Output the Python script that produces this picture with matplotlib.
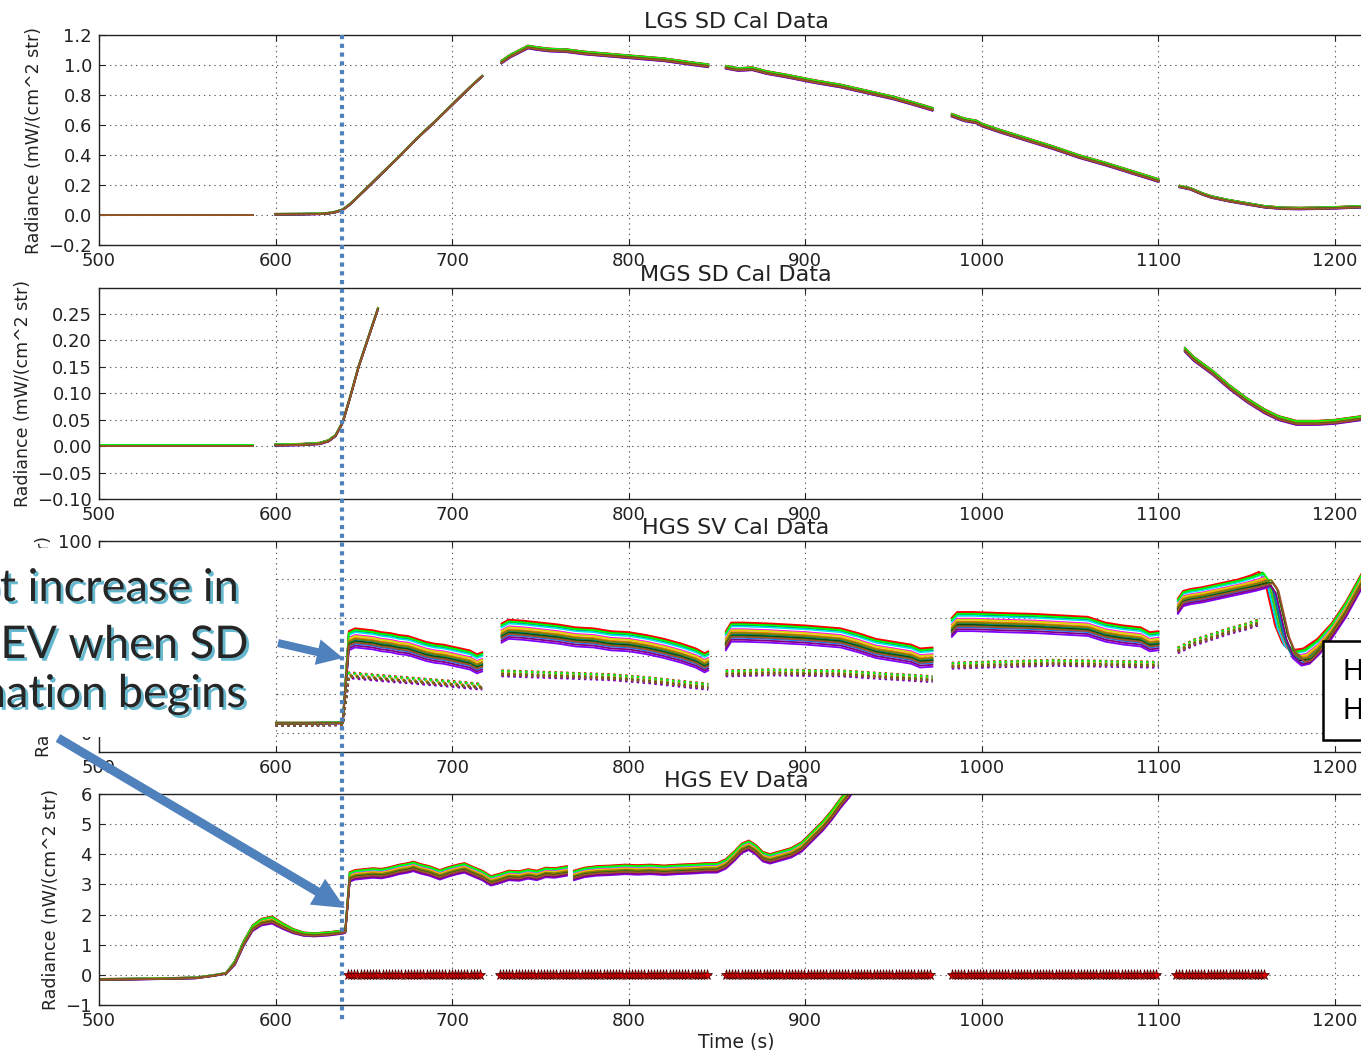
import numpy as np
import matplotlib
matplotlib.use("Agg")
import matplotlib.pyplot as plt
from matplotlib.patches import FancyArrow, Rectangle
import matplotlib.patheffects as pe

# ---------------- data ----------------
# detector colours (drawn in this order, last on top) and their relative level in the band
det_colors = ['#0000ff', '#00a000', '#ff0000', '#00e5e5', '#ff00ff', '#d8d800', '#000000',
              '#8000ff', '#00ff00', '#ff8000', '#0080ff', '#008080', '#800080', '#808000',
              '#006400', '#a0522d']
det_rank = [0.7, 0.9, 1.0, 0.6, 0.3, 0.2, -0.3, -1.0, 0.8, 0.0, -0.6, -0.2, -0.8, -0.1, -0.4, -0.5]
# delay (s) of each detector's radiance drop at the end of the last SV sector
sv_drop_lag = [1, 2, 0, 1.5, 3, 3.5, 5, 6, 2.5, 4, 5.5, 4.5, 6.5, 7, 7.5, 8]

# LGS solar diffuser radiance, mW/(cm^2 str)
lgs_t = [[500, 587],
         [600, 615, 625, 630, 634, 638, 642, 650, 660, 670, 680, 690, 700, 710, 717],
         [728, 733, 738, 743, 748, 755, 765, 775, 790, 805, 820, 835, 845],
         [855, 862, 870, 878, 890, 905, 920, 935, 950, 962, 972],
         [983, 990, 997, 1000, 1010, 1025, 1040, 1055, 1070, 1085, 1100],
         [1112, 1118, 1125, 1130, 1140, 1150, 1160, 1170, 1180, 1190, 1200, 1215, 1225]]
lgs_v = [[0.002, 0.002],
         [0.005, 0.006, 0.008, 0.012, 0.02, 0.035, 0.07, 0.16, 0.275, 0.39, 0.51, 0.62, 0.735, 0.85, 0.925],
         [1.02, 1.06, 1.09, 1.12, 1.11, 1.10, 1.095, 1.08, 1.065, 1.05, 1.035, 1.01, 0.995],
         [0.985, 0.97, 0.975, 0.95, 0.925, 0.89, 0.86, 0.82, 0.78, 0.74, 0.705],
         [0.665, 0.635, 0.62, 0.60, 0.56, 0.505, 0.45, 0.39, 0.34, 0.285, 0.23],
         [0.19, 0.175, 0.14, 0.12, 0.095, 0.075, 0.055, 0.045, 0.043, 0.045, 0.048, 0.055, 0.058]]
lgs_spread = [0.001, 0.003, 0.01, 0.01, 0.01, 0.006]

# MGS solar diffuser radiance, mW/(cm^2 str)
mgs_t = [[500, 587],
         [600, 615, 625, 630, 634, 638, 642, 647, 652, 658],
         [1115, 1120, 1131, 1140, 1150, 1160, 1168, 1178, 1190, 1200, 1215, 1225]]
mgs_v = [[0.001, 0.001],
         [0.002, 0.003, 0.005, 0.01, 0.02, 0.045, 0.09, 0.15, 0.20, 0.26],
         [0.182, 0.165, 0.138, 0.112, 0.087, 0.066, 0.053, 0.044, 0.044, 0.046, 0.053, 0.056]]
mgs_spread = [0.0005, 0.0015, 0.004]

# HGS space view radiance (solid) and its companion trace (dotted)
sv_t = [[500, 560, 620, 638, 641.5, 645, 650, 655, 660, 665, 670, 675, 680, 685, 690, 695, 700, 705, 710, 714, 717],
        [728, 732, 740, 750, 760, 770, 780, 790, 800, 810, 820, 830, 838, 843, 845],
        [855, 858, 865, 880, 900, 920, 930, 940, 950, 960, 965, 972],
        [983, 986, 995, 1010, 1030, 1050, 1060, 1070, 1080, 1090, 1095, 1100],
        [1111, 1114, 1118, 1125, 1135, 1145, 1152, 1157, 1160, 1163, 1166, 1170, 1175, 1182, 1190, 1198, 1206, 1215, 1225]]
sv_v = [[5, 5, 5, 5.2, 48, 49.5, 49, 48.5, 47.5, 47, 46, 45.5, 44, 42.5, 41.5, 41, 40, 39, 38, 36, 37],
        [52, 54, 53.5, 52.5, 51.5, 50, 49.5, 48, 47.5, 46, 44, 41.5, 39, 36.5, 37.5],
        [48, 52.5, 52.5, 52, 51, 49.5, 47, 44, 42.5, 41, 39, 39.5],
        [55, 58, 58, 57.5, 57, 56, 55.5, 52.5, 51, 50, 47.5, 48],
        [66, 70, 71, 72, 74, 76, 78, 80, 76, 64, 52, 43, 39, 40, 45, 53, 64, 79, 95]]
# band width along the first sector: thin before the diffuser is lit
sv_band_weight0 = [0.06, 0.06, 0.06, 0.06] + [1.0] * 17
sv_lag_weight = [0, 0, 0, 0, 0, 0, 0.5, 1, 1, 1, 1, 1, 1, 0.6, 0.2, 0, 0, 0, 0]

sv_dot_t = [[500, 620, 638, 641.5, 660, 680, 700, 717],
            [728, 760, 790, 810, 830, 845],
            [855, 880, 920, 945, 972],
            [983, 1000, 1040, 1070, 1100],
            [1111, 1120, 1130, 1140, 1150, 1158]]
sv_dot_v = [[4, 4, 4.2, 30, 28.5, 27, 25.5, 24],
            [31, 30, 29, 27.5, 25.5, 24],
            [31, 31.5, 31, 29.5, 28],
            [35, 35.5, 36.5, 36, 35.5],
            [43, 47, 50, 53, 55.5, 58]]
sv_dot_weight0 = [0.1, 0.1, 0.1, 1, 1, 1, 1, 1]

# HGS earth view radiance, nW/(cm^2 str)
ev_t = [[500, 520, 540, 555, 565, 572, 577, 582, 587, 592, 598, 604, 610, 616, 622, 630, 638, 639.5,
         642, 645, 650, 655, 660, 665, 670, 675, 678, 682, 687, 693, 698, 703, 707, 712, 717, 722,
         727, 732, 738, 743, 748, 753, 758, 765],
        [769, 775, 782, 790, 798, 805, 812, 820, 828, 836, 844, 850, 855, 860, 864, 868, 872, 876,
         880, 886, 892, 898, 904, 910, 915, 920, 925, 930]]
ev_v = [[-0.15, -0.14, -0.12, -0.10, -0.02, 0.05, 0.4, 1.05, 1.55, 1.75, 1.82, 1.62, 1.45, 1.35,
         1.33, 1.36, 1.42, 1.45,
         3.25, 3.32, 3.35, 3.38, 3.36, 3.42, 3.50, 3.55, 3.60, 3.52, 3.45, 3.32, 3.42, 3.50, 3.55,
         3.42, 3.30, 3.12, 3.20, 3.30, 3.28, 3.35, 3.30, 3.40, 3.38, 3.45],
        [3.30, 3.40, 3.45, 3.47, 3.50, 3.48, 3.50, 3.47, 3.50, 3.52, 3.55, 3.55, 3.68, 3.95, 4.2,
         4.3, 4.15, 3.92, 3.85, 3.95, 4.05, 4.25, 4.6, 4.95, 5.3, 5.7, 6.05, 6.5]]
ev_band_weight0 = [0.1] * 6 + [0.4, 0.5, 0.6, 0.7, 0.75, 0.6, 0.45, 0.35, 0.35, 0.35, 0.35, 0.35] + [1.0] * 26

# spans during which the solar diffuser is viewed (flagged at zero in the EV panel)
sd_spans = [(641, 717), (727, 845), (855, 972), (983, 1100), (1110, 1161)]
scan_period = 1.78

titles = ['LGS SD Cal Data', 'MGS SD Cal Data', 'HGS SV Cal Data', 'HGS EV Data']
ylabels = ['Radiance (mW/(cm^2 str)', 'Radiance (mW/(cm^2 str)',
           'Radiance (nW/(cm^2 str)', 'Radiance (nW/(cm^2 str)']
x_ticks = [500, 600, 700, 800, 900, 1000, 1100, 1200]
y_ticks = [[-0.2, 0.0, 0.2, 0.4, 0.6, 0.8, 1.0, 1.2],
           [-0.10, -0.05, 0.00, 0.05, 0.10, 0.15, 0.20, 0.25],
           [0, 20, 40, 60, 80, 100],
           [-1, 0, 1, 2, 3, 4, 5, 6]]
y_lims = [(-0.2, 1.2), (-0.1, 0.299), (-10, 100), (-1, 6)]

callout_lines = ['Abrupt increase in', 'SV and EV when SD', 'illumination begins']

# ---------------- figure ----------------
W_PX, H_PX = 1361, 1050
fig = plt.figure(figsize=(W_PX / 100, H_PX / 100), dpi=100)
fig.patch.set_facecolor('white')

left = 99 / W_PX
width = 1274 / W_PX
rows = [(35, 245), (288, 499), (541, 752), (794, 1005)]
axes = []
for (top, bot) in rows:
    ax = fig.add_axes([left, 1 - bot / H_PX, width, (bot - top) / H_PX])
    axes.append(ax)

for i, ax in enumerate(axes):
    ax.set_xlim(500, 1221.5)
    ax.set_ylim(*y_lims[i])
    ax.set_xticks(x_ticks)
    ax.set_yticks(y_ticks[i])
    ax.tick_params(direction='in', length=4, width=0.8, top=True, right=True,
                   labelsize=13, pad=5, colors='#222222')
    ax.grid(True, color='0.35', linestyle=(0, (1.2, 3.5)), linewidth=0.8)
    for s in ax.spines.values():
        s.set_linewidth(1.0)
        s.set_color('#222222')
    ax.set_title(titles[i], fontsize=16, pad=5, color='#222222')
    ax.set_ylabel(ylabels[i], fontsize=12.5, color='#222222', labelpad=4)

axes[3].set_xlabel('Time (s)', fontsize=13.5, color='#222222', labelpad=2)


def draw_band(ax, t_segs, v_segs, spreads, weights=None, ls='-', lw=1.3):
    """One line per detector; each detector sits at its own level within the band."""
    if weights is None:
        weights = [None] * len(t_segs)
    for c, r in zip(det_colors, det_rank):
        for t, v, s, w in zip(t_segs, v_segs, spreads, weights):
            w = 1.0 if w is None else np.asarray(w)
            ax.plot(t, np.asarray(v) + s * r * w, color=c, ls=ls, lw=lw)


draw_band(axes[0], lgs_t, lgs_v, lgs_spread)
draw_band(axes[1], mgs_t, mgs_v, mgs_spread)

# HGS SV: first four sectors, then the last one with per-detector drop delay
draw_band(axes[2], sv_t[:4], sv_v[:4], [5.0] * 4, [sv_band_weight0, None, None, None])
draw_band(axes[2], sv_dot_t, sv_dot_v, [1.5] * 5, [sv_dot_weight0] + [None] * 4,
          ls=':', lw=1.6)
for c, r, lag in zip(det_colors, det_rank, sv_drop_lag):
    t = np.asarray(sv_t[4]) + lag * np.asarray(sv_lag_weight)
    axes[2].plot(t, np.asarray(sv_v[4]) + 4.0 * r, color=c, lw=1.3)

draw_band(axes[3], ev_t, ev_v, [0.16, 0.16], [ev_band_weight0, None])
sd_times = np.concatenate([np.arange(a, b, scan_period) for a, b in sd_spans])
axes[3].plot(sd_times, np.zeros_like(sd_times), linestyle='none', marker='*',
             markersize=8, markerfacecolor='#e00000', markeredgecolor='#400000',
             markeredgewidth=0.5)

# ---------------- slide overlay (pixel coordinates) ----------------
ov = fig.add_axes([0, 0, 1, 1], zorder=10)
ov.set_xlim(0, W_PX)
ov.set_ylim(H_PX, 0)
ov.axis('off')
ov.patch.set_alpha(0)

blue = '#4f81bd'
ov.plot([342, 342], [35, 1020], color=blue, lw=3.0,
        linestyle=(0, (1, 1.1)), solid_capstyle='butt', dash_capstyle='butt')

ov.add_patch(Rectangle((0, 548), 275, 189, facecolor='white', edgecolor='none'))

shadow = [pe.withSimplePatchShadow(offset=(2, -2), shadow_rgbFace='#4bacc6', alpha=0.85)]
for txt, xr, yb in zip(callout_lines, [238, 248, 245], [601, 658, 707]):
    ov.text(xr, yb, txt, ha='right', va='baseline', fontsize=32.5, family='Lato',
            color='#262626', path_effects=shadow)

ov.add_patch(FancyArrow(278, 643, 65, 15, width=8, head_width=26, head_length=26,
                        length_includes_head=True, color=blue, lw=0))
ov.add_patch(FancyArrow(58, 738, 287, 170, width=9, head_width=30, head_length=32,
                        length_includes_head=True, color=blue, lw=0))

# clipped legend box at the right edge of the SV panel
ov.add_patch(Rectangle((1323, 641), 100, 99, facecolor='white', edgecolor='black', lw=1.8))
ov.text(1343, 672, 'H', ha='left', va='center', fontsize=20, family='Lato', color='black')
ov.text(1343, 711, 'H', ha='left', va='center', fontsize=20, family='Lato', color='black')

fig.savefig('out.png', dpi=100, facecolor='white')
